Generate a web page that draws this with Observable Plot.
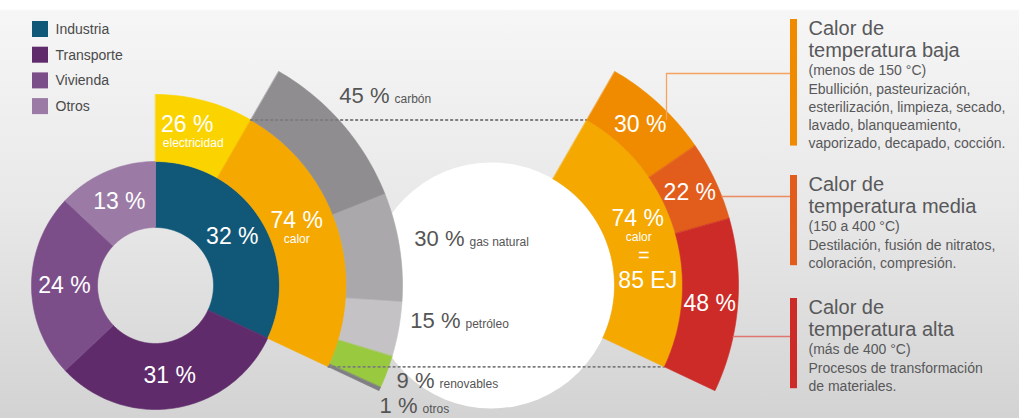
<!DOCTYPE html>
<html><head><meta charset="utf-8">
<script src="https://cdn.jsdelivr.net/npm/d3@7"></script>
<script src="https://cdn.jsdelivr.net/npm/@observablehq/plot@0.6"></script>
<style>
html,body{margin:0;padding:0;background:#fff;}
#chart{width:1019px;height:418px;overflow:hidden;}
</style></head><body><div id="chart"></div>
<script>
// ---------- data ----------
const sectors = ["Industria", "Transporte", "Vivienda", "Otros"];
const sectorShares = [32, 31, 24, 13];
const sectorColors = ["#115878", "#5f2b6b", "#7c4e89", "#9b7ba5"];

const industryUses = ["electricidad", "calor"];
const industryShares = [26, 74];
const industryColors = ["#fbd400", "#f5a800"];

const fuels = ["carbón", "gas natural", "petróleo", "renovables", "otros"];
const fuelShares = [45, 30, 15, 9, 1];
const fuelColors = ["#8f8d8f", "#aaa8aa", "#c4c2c4", "#98c93e", "#7f7f83"];

const heatLevels = ["baja", "media", "alta"];
const heatShares = [30, 22, 48];
const heatColors = ["#f08b00", "#e25d1c", "#cd2b27"];
const heatLineColors = ["#f4a460", "#ec8a62", "#e0776f"];
const heatTotal = "85 EJ";
const heatRanges = ["(menos de 150 °C)", "(150 a 400 °C)", "(más de 400 °C)"];
const heatUses = [
  ["Ebullición, pasteurización,", "esterilización, limpieza, secado,", "lavado, blanqueamiento,", "vaporizado, decapado, cocción."],
  ["Destilación, fusión de nitratos,", "coloración, compresión."],
  ["Procesos de transformación", "de materiales."]
];

// ---------- layout ----------
const W = 1019, H = 418;
const L = {cx: 155, cy: 285};
const R = {cx: 491, cy: 285};
const r0 = 58, r1 = 124, r2 = 191, r3 = 247;
const TAU = Math.PI * 2;
const FONT = "'Liberation Sans', Arial, Helvetica, sans-serif";

function spans(shares, a0, a1) {
  const tot = d3.sum(shares);
  let acc = 0;
  return shares.map(s => {
    const s0 = a0 + (a1 - a0) * acc / tot;
    acc += s;
    return [s0, a0 + (a1 - a0) * acc / tot];
  });
}
const pt = (c, r, a) => ({x: c.cx + r * Math.sin(a), y: c.cy - r * Math.cos(a)});

const sectorAngles = spans(sectorShares, 0, TAU);
const [ind0, ind1] = sectorAngles[0];
const useAngles = spans(industryShares, ind0, ind1);
const [cal0, cal1] = useAngles[1];
const fuelAngles = spans(fuelShares, cal0, cal1);
const heatAngles = spans(heatShares, cal0, cal1);

function arc(id, c, ra, rb, a0, a1, color) {
  const n = Math.max(2, Math.ceil((a1 - a0) * 180 / Math.PI));
  const out = [];
  for (let i = 0; i <= n; i++) { const a = a0 + (a1 - a0) * i / n; out.push({id, color, ...pt(c, rb, a)}); }
  for (let i = n; i >= 0; i--) { const a = a0 + (a1 - a0) * i / n; out.push({id, color, ...pt(c, ra, a)}); }
  return out;
}

const leftArcs = [
  ...sectors.flatMap((s, i) => arc("s" + i, L, r0, r1, ...sectorAngles[i], sectorColors[i])),
  ...industryUses.flatMap((u, i) => arc("u" + i, L, r1, r2, ...useAngles[i], industryColors[i])),
  ...fuels.flatMap((f, i) => arc("f" + i, L, r2, r3, ...fuelAngles[i], fuelColors[i]))
];
const rightArcs = [
  ...arc("rc", R, r1 - 1, r2, cal0, cal1, industryColors[1]),
  ...heatLevels.flatMap((h, i) => arc("h" + i, R, r2, r3, ...heatAngles[i], heatColors[i]))
];

// dotted connectors between the two "calor" fans
const dotted = [cal0, cal1].flatMap((a, i) => [
  {id: i, ...pt(L, r2, a)}, {id: i, ...pt(R, r2, a)}
]);

// labels inside arcs
const mid = ([a, b]) => (a + b) / 2;
const rIn = (r0 + r1) / 2, rMid = (r1 + r2) / 2, rOut = (r2 + r3) / 2;
const sectorLabels = sectorShares.map((v, i) => ({text: v + " %", ...pt(L, rIn, mid(sectorAngles[i]))}));
const eC = pt(L, rMid, mid(useAngles[0]));
const cC = pt(L, rMid, mid(useAngles[1]));
const rcC = pt(R, rMid, mid([cal0, cal1]));
const whiteBig = [
  ...sectorLabels,
  {text: industryShares[0] + " %", x: eC.x - 9, y: eC.y - 9},
  {text: industryShares[1] + " %", x: cC.x - 9, y: cC.y - 18},
  ...heatShares.map((v, i) => ({text: v + " %", ...pt(R, rOut, mid(heatAngles[i]))})),
  {text: industryShares[1] + " %", x: rcC.x - 4, y: rcC.y - 20},
  {text: heatTotal, x: rcC.x + 6, y: rcC.y + 42}
];
const whiteEq = [{text: "=", x: rcC.x + 2, y: rcC.y + 17}];
const whiteSmall = [
  {text: industryUses[0], x: eC.x - 3, y: eC.y + 10},
  {text: industryUses[1], x: cC.x - 9, y: cC.y + 1},
  {text: industryUses[1], x: rcC.x - 3, y: rcC.y - 1}
];

// fuel labels (outside, right end of the value, baseline)
const fuelLabelPos = [[389, 102], [464, 245], [460, 327], [434, 387], [417, 412]];
const fuelBig = fuelShares.map((v, i) => ({text: v + " %", x: fuelLabelPos[i][0], y: fuelLabelPos[i][1]}));
const fuelSmall = fuels.map((f, i) => ({text: f, x: fuelLabelPos[i][0] + 5, y: fuelLabelPos[i][1]}));

// legend
const legend = sectors.map((s, i) => ({s, color: sectorColors[i], y: 21 + i * 25.7}));

// right text blocks
const blockBase = [37, 193, 316];
const tx = 808;
const heads = [], subs = [], bars = [];
heatLevels.forEach((h, i) => {
  const b = blockBase[i];
  heads.push({text: "Calor de", y: b - 3}, {text: "temperatura " + h, y: b + 19.5});
  subs.push({text: heatRanges[i], y: b + 37});
  heatUses[i].forEach((u, j) => subs.push({text: u, y: b + 56 + 18.2 * j}));
  const last = b + 56 + 18.2 * (heatUses[i].length - 1);
  bars.push({y1: b - 18, y2: last - 2, color: heatColors[i]});
});
// connector lines from fan to the bars
const tickY = [73, 196, 336];
const conn = [];
{
  const xv = 666;
  const yv = R.cy - Math.sqrt(r3 * r3 - (xv - R.cx) ** 2) + 8;
  conn.push({id: 0, x: xv, y: yv, c: heatLineColors[0]}, {id: 0, x: xv, y: tickY[0], c: heatLineColors[0]}, {id: 0, x: 790, y: tickY[0], c: heatLineColors[0]});
  [1, 2].forEach(i => {
    const x0 = R.cx + Math.sqrt(r3 * r3 - (tickY[i] - R.cy) ** 2);
    conn.push({id: i, x: x0, y: tickY[i], c: heatLineColors[i]}, {id: i, x: 790, y: tickY[i], c: heatLineColors[i]});
  });
}

const poly = (data) => Plot.line(data, {x: "x", y: "y", z: "id", fill: "color", stroke: "color", strokeWidth: 0.6, curve: "linear-closed"});

const chart = Plot.plot({
  width: W, height: H,
  margin: 0,
  x: {domain: [0, W], range: [0, W], axis: null},
  y: {domain: [0, H], range: [0, H], axis: null},
  color: {type: "identity"},
  style: {
    background: "linear-gradient(to bottom, #ffffff 0px, #ffffff 9px, #f6f6f6 11px, #e8e8e8 50%, #d3d3d3 100%)",
    fontFamily: FONT,
    overflow: "hidden"
  },
  marks: [
    // white circle behind the right fan
    Plot.dot([R], {x: "cx", y: "cy", r: r1 - 1, fill: "white", stroke: "none"}),
    poly(leftArcs),
    Plot.line(dotted, {x: "x", y: "y", z: "id", stroke: "#7d7d7d", strokeWidth: 1.8, strokeDasharray: "1.6 3.4"}),
    poly(rightArcs),
    // connectors and bars
    Plot.line(conn, {x: "x", y: "y", z: "id", stroke: "c", strokeWidth: 1.3}),
    Plot.rect(bars, {x1: 790, x2: 797, y1: "y1", y2: "y2", fill: "color"}),
    // legend
    Plot.rect(legend, {x1: 32, x2: 48, y1: "y", y2: d => d.y + 16, fill: "color"}),
    Plot.text(legend, {x: 55, y: d => d.y + 8, text: "s", textAnchor: "start", fontSize: 14, fill: "#4a4a4a"}),
    // labels
    Plot.text(whiteBig, {x: "x", y: "y", text: "text", fill: "white", fontSize: 23, textAnchor: "middle"}),
    Plot.text(whiteEq, {x: "x", y: "y", text: "text", fill: "white", fontSize: 20, textAnchor: "middle"}),
    Plot.text(whiteSmall, {x: "x", y: "y", text: "text", fill: "white", fontSize: 12, textAnchor: "middle"}),
    Plot.text(fuelBig, {x: "x", y: "y", text: "text", fill: "#555", fontSize: 22, textAnchor: "end", lineAnchor: "bottom"}),
    Plot.text(fuelSmall, {x: "x", y: "y", text: "text", fill: "#555", fontSize: 12, textAnchor: "start", lineAnchor: "bottom"}),
    Plot.text(heads, {x: tx, y: "y", text: "text", fill: "#58585a", fontSize: 20, textAnchor: "start", lineAnchor: "bottom"}),
    Plot.text(subs, {x: tx, y: "y", text: "text", fill: "#58585a", fontSize: 14, textAnchor: "start", lineAnchor: "bottom"})
  ]
});
document.getElementById("chart").appendChild(chart);
</script>
</body></html>
